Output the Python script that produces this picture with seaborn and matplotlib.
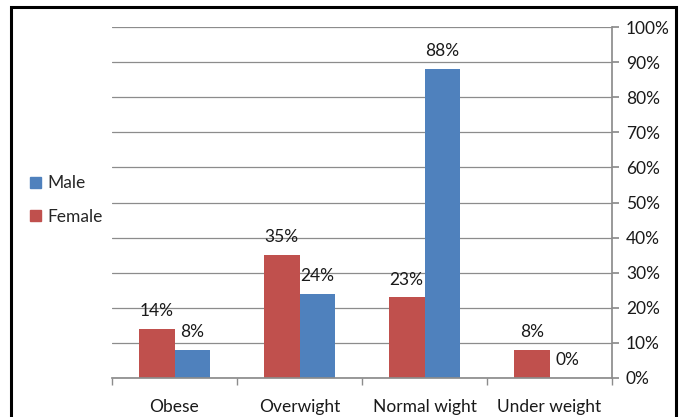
import matplotlib
matplotlib.use("Agg")
import matplotlib.pyplot as plt
import seaborn as sns
import pandas as pd
import numpy as np
from matplotlib.patches import Rectangle
from matplotlib.ticker import FixedLocator, FuncFormatter

categories = ["Obese", "Overwight", "Normal wight", "Under weight"]
female = [14, 35, 23, 8]
male = [8, 24, 88, 0]
yticks = [0, 10, 20, 30, 40, 50, 60, 70, 80, 90, 100]

sns.set_theme(style="white")
plt.rcParams["font.family"] = ["Lato", "DejaVu Sans"]

df = pd.DataFrame({
    "category": categories * 2,
    "value": female + male,
    "sex": ["Female"] * len(categories) + ["Male"] * len(categories),
})

red = "#C0504D"
blue = "#4F81BD"
fs = 12.5

fig = plt.figure(figsize=(6.85, 4.17), dpi=100)
ax = fig.add_axes([112/685, 1 - 378/417, 500/685, 351/417])

sns.barplot(data=df, x="category", y="value", hue="sex", order=categories,
            hue_order=["Female", "Male"], palette=[red, blue], width=0.57,
            saturation=1, ax=ax, legend=False, linewidth=0, edgecolor="none")

for cont in ax.containers:
    ax.bar_label(cont, labels=[f"{v:.0f}%" for v in cont.datavalues],
                 padding=7, fontsize=fs, color="#1a1a1a")

ax.set_ylim(0, 100)
ax.set_xlim(-0.5, len(categories) - 0.5)
ax.yaxis.tick_right()
ax.yaxis.set_major_locator(FixedLocator(yticks))
ax.yaxis.set_major_formatter(FuncFormatter(lambda v, p: f"{v:.0f}%"))
ax.grid(axis="y", color="#8c8c8c", linewidth=0.9)
ax.set_axisbelow(True)
ax.set_xlabel("")
ax.set_ylabel("")
for s in ["top", "left"]:
    ax.spines[s].set_visible(False)
ax.spines["right"].set_color("#8c8c8c")
ax.spines["bottom"].set_color("#8c8c8c")
ax.tick_params(axis="y", which="major", right=True, length=5, color="#8c8c8c",
               labelsize=fs, labelcolor="#1a1a1a", pad=5)
ax.tick_params(axis="x", which="major", bottom=False, labelsize=fs,
               labelcolor="#1a1a1a", pad=9)
ax.xaxis.set_minor_locator(FixedLocator(np.arange(-0.5, len(categories), 1.0)))
ax.tick_params(axis="x", which="minor", bottom=True, length=5, color="#8c8c8c")

handles = [Rectangle((0, 0), 1, 1, color=blue), Rectangle((0, 0), 1, 1, color=red)]
fig.legend(handles, ["Male", "Female"], loc="center left",
           bbox_to_anchor=(18/685, 1 - 200/417), frameon=False, fontsize=fs,
           handlelength=0.6, handleheight=0.6, handletextpad=0.4,
           labelspacing=1.0, borderpad=0.2)

fig.patches.append(Rectangle((11/685, -0.05), (676 - 11)/685, 1 - 7/417 + 0.05,
                             transform=fig.transFigure, fill=False,
                             edgecolor="black", linewidth=2.2))

fig.savefig("out.png", dpi=100)
